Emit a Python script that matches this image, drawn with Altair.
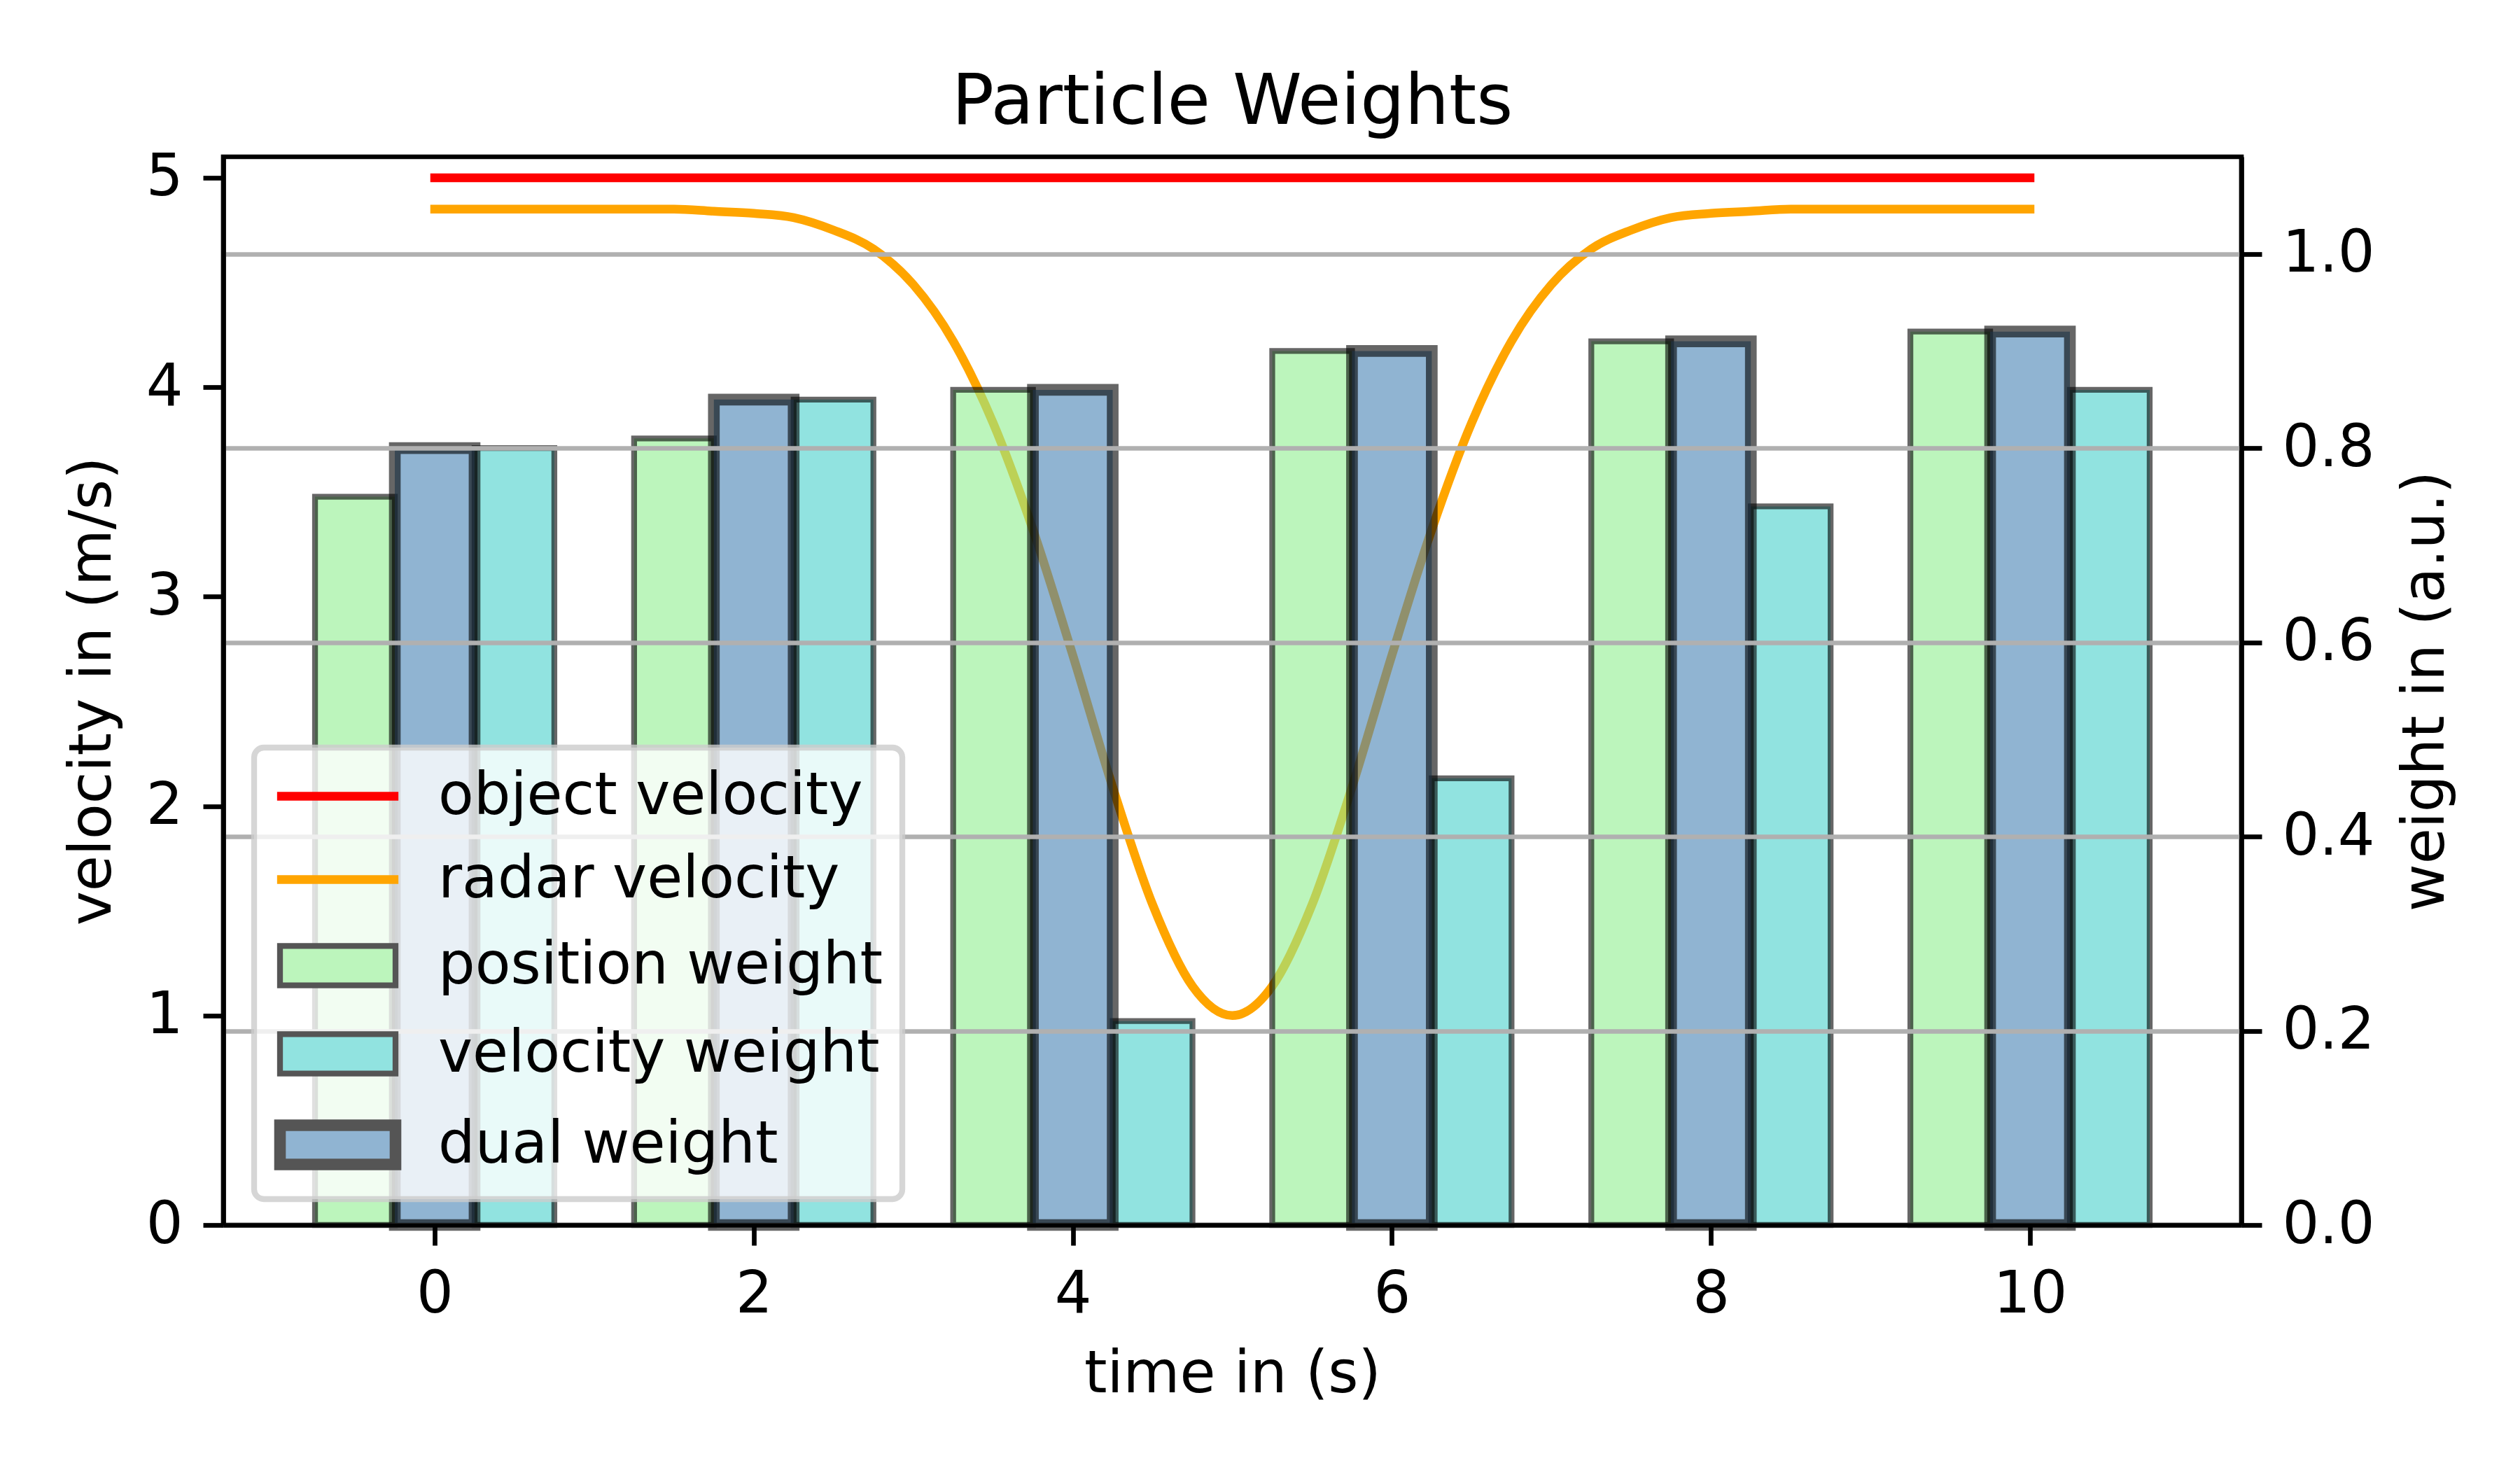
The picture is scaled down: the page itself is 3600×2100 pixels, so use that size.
import altair as alt
import pandas as pd

FONT = "DejaVu Sans"
TITLE = "Particle Weights"
X_TITLE = "time in (s)"
YL_TITLE = "velocity in (m/s)"
YR_TITLE = "weight in (a.u.)"

SERIES = ["object velocity", "radar velocity", "position weight", "velocity weight", "dual weight"]
FILL_COLORS = ["#ff0000", "#ffa500", "#90ee90", "#48d1cc", "#4682b4"]
STROKE_COLORS = ["#ff0000", "#ffa500", "#000000", "#000000", "#000000"]
LEGEND_FILLS = ["#ff0000", "#ffa500", "#bcf5bc", "#91e3e0", "#90b4d2"]
LEGEND_STROKES = ["#ff0000", "#ffa500", "#555555", "#555555", "#555555"]

# bar data (weights, right axis)
TIME_STEPS = [0, 2, 4, 6, 8, 10]
POSITION_WEIGHT = [0.75, 0.81, 0.86, 0.90, 0.91, 0.92]
VELOCITY_WEIGHT = [0.80, 0.85, 0.21, 0.46, 0.74, 0.86]
DUAL_WEIGHT = [0.80, 0.85, 0.86, 0.90, 0.91, 0.92]

# line data (velocities, left axis)
OBJECT_TIME = [0, 10]
OBJECT_VELOCITY = [5.0, 5.0]
RADAR_TIME = [0, 0.25, 0.5, 0.75, 1, 1.25, 1.5, 1.75, 2, 2.25, 2.5, 2.75, 3, 3.25,
              3.5, 3.75, 4, 4.25, 4.5, 4.75, 5, 5.25, 5.5, 5.75, 6, 6.25, 6.5, 6.75,
              7, 7.25, 7.5, 7.75, 8, 8.25, 8.5, 8.75, 9, 9.25, 9.5, 9.75, 10]
RADAR_VELOCITY = [4.85, 4.85, 4.85, 4.85, 4.85, 4.85, 4.85, 4.84, 4.83, 4.81, 4.75, 4.66,
                  4.49, 4.22, 3.83, 3.32, 2.72, 2.09, 1.53, 1.14, 1.00, 1.14, 1.53, 2.09,
                  2.72, 3.32, 3.83, 4.22, 4.49, 4.66, 4.75, 4.81, 4.83, 4.84, 4.85, 4.85,
                  4.85, 4.85, 4.85, 4.85, 4.85]

BAR_WIDTH = 0.5
BAR_OFFSETS = {"position weight": -0.5, "velocity weight": 0.5, "dual weight": 0.0}

W, H = 2883, 1526

vel_rows = []
for t, v in zip(OBJECT_TIME, OBJECT_VELOCITY):
    vel_rows.append({"series": SERIES[0], "t": t, "v": v})
for t, v in zip(RADAR_TIME, RADAR_VELOCITY):
    vel_rows.append({"series": SERIES[1], "t": t, "v": v})
vel_df = pd.DataFrame(vel_rows)

bar_rows = []
for name, vals in [("position weight", POSITION_WEIGHT),
                   ("velocity weight", VELOCITY_WEIGHT),
                   ("dual weight", DUAL_WEIGHT)]:
    for t, w in zip(TIME_STEPS, vals):
        c = t + BAR_OFFSETS[name]
        bar_rows.append({"series": name, "t": t, "w": w,
                         "x0": c - BAR_WIDTH / 2, "x1": c + BAR_WIDTH / 2})
bar_df = pd.DataFrame(bar_rows)

# legend symbol outlines (unit = half the symbol size)
LINE_PATH = "M-2.5,-0.064L2.5,-0.064L2.5,0.064L-2.5,0.064Z"
RECT_PATH = "M-2.5,-0.85L2.5,-0.85L2.5,0.85L-2.5,0.85Z"
DUAL_PATH = ("M-2.626,-0.974L2.626,-0.974L2.626,0.974L-2.626,0.974Z"
             "M-2.374,-0.723L2.374,-0.723L2.374,0.723L-2.374,0.723Z")
SHAPES = [LINE_PATH, LINE_PATH, RECT_PATH, RECT_PATH, DUAL_PATH]

fill_scale = alt.Scale(domain=SERIES, range=FILL_COLORS)
stroke_scale = alt.Scale(domain=SERIES, range=STROKE_COLORS)
leg_fill_scale = alt.Scale(domain=SERIES, range=LEGEND_FILLS)
leg_stroke_scale = alt.Scale(domain=SERIES, range=LEGEND_STROKES)
shape_scale = alt.Scale(domain=SERIES, range=SHAPES)

x_scale = alt.Scale(domain=[-1.325, 11.325], nice=False, zero=False)
x_axis = alt.Axis(title=X_TITLE, values=[0, 2, 4, 6, 8, 10], format="d",
                  titleY=238, titleBaseline="alphabetic", grid=False, zindex=1)
yl_axis = alt.Axis(title=YL_TITLE, orient="left", values=[0, 1, 2, 3, 4, 5], format="d",
                   titleX=-162, titleY=H / 2, titleAngle=270, titleAlign="center",
                   titleBaseline="alphabetic", grid=False, zindex=1)
yr_axis = alt.Axis(title=YR_TITLE, orient="right", values=[0, 0.2, 0.4, 0.6, 0.8, 1.0],
                   format=".1f", titleX=288, titleY=H / 2, titleAngle=270,
                   titleAlign="center", titleBaseline="alphabetic", grid=True,
                   gridColor="#b0b0b0", gridWidth=6.7, zindex=1)

LEG = alt.Legend(title=None, orient="none", legendX=44, legendY=844, direction="vertical",
                 fillColor="rgba(255,255,255,0.8)", strokeColor="rgba(204,204,204,0.8)",
                 cornerRadius=14, padding=28, rowPadding=35, symbolSize=4356,
                 symbolOffset=50, labelOffset=102, labelFontSize=83, labelFont=FONT,
                 labelColor="black", labelLimit=3000, zindex=2,
                 symbolStrokeWidth=8.3, symbolOpacity=1)

lines = alt.Chart(vel_df).mark_line(strokeWidth=12.5, strokeCap="square",
                                    interpolate="monotone").encode(
    x=alt.X("t:Q", scale=x_scale, axis=x_axis),
    y=alt.Y("v:Q", scale=alt.Scale(domain=[0, 5.1], nice=False, zero=False), axis=yl_axis),
    stroke=alt.Stroke("series:N", scale=stroke_scale, legend=None),
)

bars = alt.Chart(bar_df).mark_bar(fillOpacity=0.6, strokeOpacity=0.6).encode(
    x=alt.X("x0:Q", scale=x_scale, axis=x_axis),
    x2="x1:Q",
    y=alt.Y("w:Q", scale=alt.Scale(domain=[0, 1.1], nice=False, zero=True),
            axis=yr_axis, stack=None),
    y2=alt.datum(0),
    fill=alt.Fill("series:N", scale=fill_scale, legend=None),
    stroke=alt.Stroke("series:N", scale=stroke_scale, legend=None),
    strokeWidth=alt.when(alt.datum.series == "dual weight").then(alt.value(16.7)).otherwise(alt.value(8.3)),
)

legend_layer = alt.Chart(bar_df).mark_point(filled=True, opacity=1).encode(
    shape=alt.Shape("series:N", scale=shape_scale, legend=LEG),
    fill=alt.Fill("series:N", scale=leg_fill_scale, legend=LEG),
    stroke=alt.Stroke("series:N", scale=leg_stroke_scale, legend=LEG),
).transform_filter("false")

chart = alt.layer(lines, bars, legend_layer).resolve_scale(
    y="independent", fill="independent", stroke="independent", shape="independent"
).properties(
    width=W, height=H,
    title=alt.TitleParams(TITLE, fontSize=100, font=FONT, fontWeight="normal",
                          color="black", anchor="middle", frame="group", offset=-64,
                          baseline="alphabetic"),
    autosize=alt.AutoSizeParams(type="none"),
    padding={"left": 311, "top": 216, "right": 390, "bottom": 342},
).configure(font=FONT).configure_axis(
    labelFont=FONT, labelFontSize=83, labelColor="black", labelPadding=29,
    tickSize=29, tickWidth=6.7, tickColor="black",
    domainColor="black", domainWidth=6.7,
    titleFont=FONT, titleFontSize=83, titleFontWeight="normal", titleColor="black",
).configure_legend(strokeWidth=8.3).configure_view(stroke="black", strokeWidth=6.7)

chart.save("out.html", embed_options={"renderer": "svg", "actions": False})
